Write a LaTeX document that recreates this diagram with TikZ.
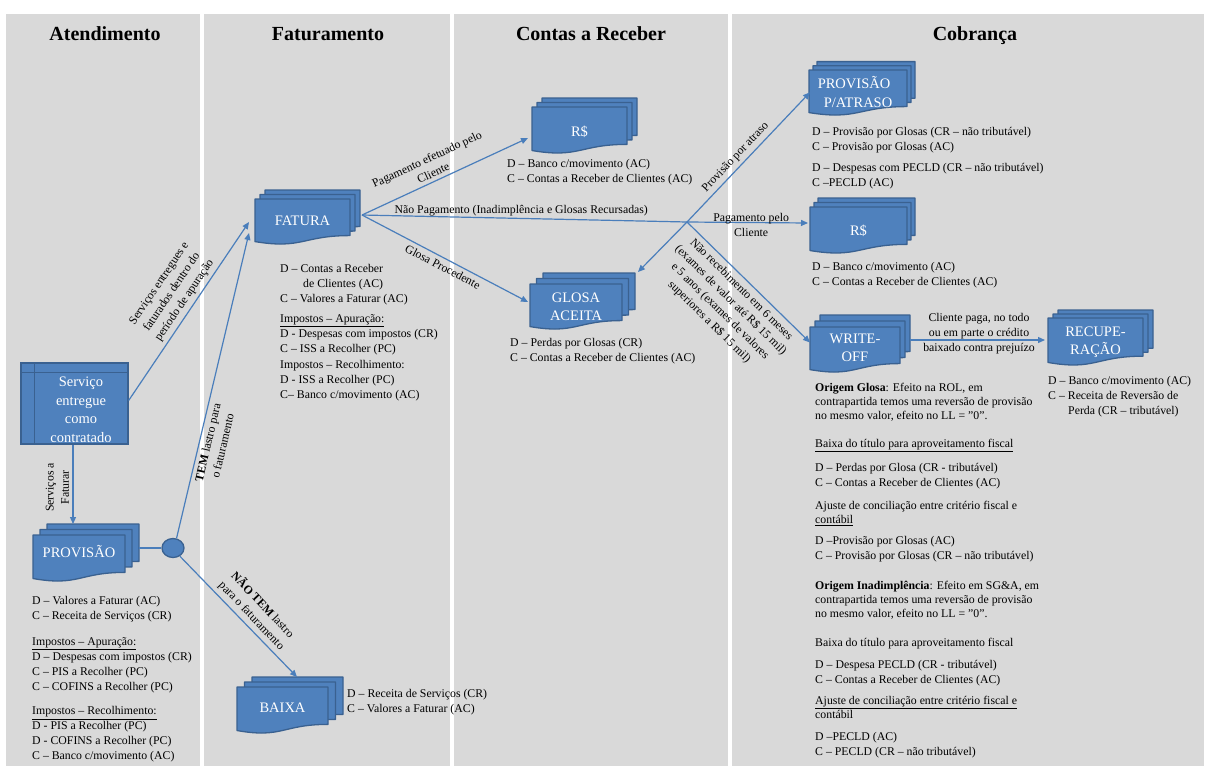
\documentclass[tikz,border=0pt]{standalone}
\usepackage{fontspec}
\setmainfont{Liberation Serif}
\usetikzlibrary{arrows.meta,calc,shapes.geometric}
\definecolor{bgray}{HTML}{D9D9D9}
\definecolor{dfill}{HTML}{4F81BD}
\definecolor{dline}{HTML}{3A6190}
\definecolor{aline}{HTML}{4A7EBB}
\newcommand\onedoc[4]{%
  \pgfmathsetmacro\odxm{(#1+#3)/2}%
  \pgfmathsetmacro\odya{#2+0.802*#4}%
  \pgfmathsetmacro\odyb{#2+1.107*#4}%
  \pgfmathsetmacro\odyc{#2+0.934*#4}%
  \path[docstyle] (#1,#2) -- (#3,#2) -- (#3,\odya) .. controls (\odxm,\odya) and (\odxm,\odyb) .. (#1,\odyc) -- cycle;%
}
\newcommand\mdoc[7]{%
  \pgfmathsetmacro\mxa{#2+2*\mdx}%
  \pgfmathsetmacro\mya{#3-2*\mdy}%
  \pgfmathsetmacro\mxb{#4+2*\mdx}%
  \pgfmathsetmacro\mxc{#2+\mdx}%
  \pgfmathsetmacro\myc{#3-\mdy}%
  \pgfmathsetmacro\mxd{#4+\mdx}%
  \onedoc{\mxa}{\mya}{\mxb}{#5}%
  \onedoc{\mxc}{\myc}{\mxd}{#5}%
  \onedoc{#2}{#3}{#4}{#5}%
  \pgfmathsetmacro\mw{#4+2*\mdx-#2}%
  \pgfmathsetmacro\mh{0.987*#5+2*\mdy}%
  \node[docbox,minimum width=\mw pt,minimum height=\mh pt,anchor=north west] (#1) at (#2,\mya) {};%
  \pgfmathsetmacro\mxm{(#2+#4)/2}%
  \node[doctext] (#1-t) at (\mxm,#6) {#7};%
}
\def\mdx{5}\def\mdy{4.5}
\begin{document}
\begin{tikzpicture}[x=1pt,y=-1pt,
  hdr/.style={font=\fontsize{20}{22}\selectfont\bfseries, inner sep=0, anchor=base},
  docstyle/.style={fill=dfill, draw=dline, line width=1.3pt, line join=round},
  docbox/.style={draw=none, inner sep=0, outer sep=0},
  doctext/.style={text=white, font=\fontsize{14.5}{18}\selectfont, align=center, inner sep=0},
  txt/.style={font=\fontsize{11.8}{15}\selectfont, align=left, anchor=north west, inner sep=0},
  txtc/.style={font=\fontsize{11.8}{14.3}\selectfont, align=left, anchor=north west, inner sep=0},
  lbl/.style={font=\fontsize{11.8}{15.2}\selectfont, align=center, inner sep=3.5pt},
  lbl2/.style={font=\fontsize{11.8}{15}\selectfont, align=center, inner sep=0, anchor=center},
  arr/.style={draw=aline, line width=1.2pt, -{Triangle[length=7pt,width=6pt]}},
  ln/.style={draw=aline, line width=1.2pt}]
\useasboundingbox (0,0) rectangle (1206,766);
\fill[white] (0,0) rectangle (1206,766);
% columns
\fill[bgray] (6,14) rectangle (200,766);
\fill[bgray] (204,14) rectangle (450,766);
\fill[bgray] (454,14) rectangle (728,766);
\fill[bgray] (732,14) rectangle (1204,766);
% headers
\node[hdr] (hA) at (105,40) {Atendimento};
\node[hdr] (hF) at (328,40) {Faturamento};
\node[hdr] (hC) at (591,40) {Contas a Receber};
\node[hdr] (hB) at (975,40) {Cobrança};
% servico (internal storage)
\node[fill=dfill, draw=dline, line width=1.3pt, minimum width=107pt, minimum height=81pt, inner sep=0] (serv) at (74.5,403.5) {};
\draw[dline, line width=1.3pt] ($(serv.north west)+(14,0)$) -- ($(serv.south west)+(14,0)$);
\draw[dline, line width=1.3pt] ($(serv.north west)+(0,10)$) -- ($(serv.north east)+(0,10)$);
\node[text=white, font=\fontsize{14.5}{18.5}\selectfont, align=center, inner sep=0] (serv-t) at (81,410) {Serviço\\entregue\\como\\contratado};
% multidocuments
\def\mdx{7}\def\mdy{5.5}\mdoc{prov}{33}{535}{125}{46.6}{552}{PROVISÃO}
\def\mdx{5}\def\mdy{4.5}\mdoc{fatura}{255}{199}{350}{45.6}{221}{FATURA}
\def\mdx{5}\def\mdy{4.5}\mdoc{rs1}{532}{107}{627}{46.6}{132}{R\$}
\def\mdx{6.5}\def\mdy{5.5}\mdoc{glosa}{530}{284}{622}{45.6}{307}{GLOSA\\ACEITA}
\def\mdx{4}\def\mdy{4.2}\mdoc{pa}{809}{70}{907}{45.6}{92}{\hspace*{-8pt}PROVISÃO\\P/ATRASO}
\def\mdx{4}\def\mdy{4.5}\mdoc{rs2}{810}{207}{907}{46.6}{231}{R\$}
\def\mdx{5}\def\mdy{6}\mdoc{wo}{810}{327}{900}{45.6}{348}{WRITE-\\OFF}
\def\mdx{5}\def\mdy{4}\mdoc{rec}{1048}{318}{1143}{47.6}{342.5}{RECUPE-\\RAÇÃO}
\def\mdx{7.5}\def\mdy{5}\mdoc{baixa}{237}{687}{328}{46.6}{708}{BAIXA}
% junction circle
\node[ellipse, fill=dfill, draw=dline, line width=1.3pt, minimum width=22pt, minimum height=19pt, inner sep=0] (circ) at (173,548) {};
\coordinate (fo) at ($(fatura.east)+(2,-2)$);
\coordinate (jn) at (687,222);
\coordinate (wos) at ($(wo.east)+(0,-3.5)$);
% connectors
\draw[arr] ($(serv.east)+(0,-3)$) -- node[lbl,pos=0.53,rotate=56,anchor=south] {Serviços entregues e\\faturados dentro do\\período de apuração} ($(fatura.west)+(-6,5)$);
\draw[arr] ([xshift=-1.5pt]serv.south) -- node[lbl,pos=0.54,rotate=90,anchor=south] {Serviços a\\Faturar} ([xshift=-1.5pt]serv.south |- prov.north);
\draw[ln] (circ.west) -- (circ.west -| prov.east);
\draw[arr] (circ.70) -- node[lbl,pos=0.32,rotate=76.8,anchor=north] {\textbf{TEM} lastro para\\o faturamento} ($(fatura.west)+(-6,16)$);
\draw[arr] (circ.-50) -- node[lbl,pos=0.55,rotate=-46.4,anchor=south] {\textbf{NÃO TEM} lastro\\para o faturamento} ($(baixa.north)+(7,0)$);
\draw[arr] (fo) -- node[lbl,pos=0.45,rotate=24.9,anchor=south] {Pagamento efetuado pelo\\Cliente} ($(rs1.west)+(-4,12.5)$);
\draw[ln] (fo) -- node[lbl,pos=0.49,anchor=south,inner sep=1.5pt] {Não Pagamento (Inadimplência e Glosas Recursadas)} (jn);
\draw[arr] (fo) -- node[lbl,pos=0.51,rotate=-27.6,anchor=north] {Glosa Procedente} ($(glosa.west)+(-2,1)$);
\draw[arr] (jn) -- node[lbl,pos=0.45,rotate=46.6,anchor=south] {Provisão por atraso} ($(pa.west)+(1,4)$);
\draw[arr] (jn) -- node[lbl2,pos=0.53,yshift=-2.5pt] {Pagamento pelo\\Cliente} ($(rs2.west)+(-2,-2.5)$);
\draw[arr] (jn) -- ($(glosa.north east)+(3,-1)$);
\draw[arr] (jn) -- node[lbl,pos=0.5,rotate=-44.5,anchor=north,inner sep=4.5pt] {Não recebimento em 6 meses\\(exames de valor até R\$ 15 mil)\\e 5 anos (exames de valores\\superiores a R\$ 15 mil)} ($(wo.west)+(0,-1)$);
\draw[arr, shorten >=3pt] (wos) -- node[lbl2,pos=0.5,yshift=6pt] {Cliente paga, no todo\\ou em parte o crédito\\baixado contra prejuízo} (wos -| rec.west);
% text blocks: Atendimento
\node[txt] (l1) at (32,596.5) {D – Valores a Faturar (AC)\\C – Receita de Serviços (CR)};
\node[txt] (l2) at (32,637.5) {\underline{Impostos – Apuração:}\\D – Despesas com impostos (CR)\\C – PIS a Recolher (PC)\\C – COFINS a Recolher (PC)};
\node[txt] (l3) at (32,706.5) {\underline{Impostos – Recolhimento:}\\D - PIS a Recolher (PC)\\D - COFINS a Recolher (PC)\\C – Banco c/movimento (AC)};
% Faturamento
\node[txt] (f1) at (280,264.5) {D – Contas a Receber\\\hspace*{23pt}de Clientes (AC)\\C – Valores a Faturar (AC)};
\node[txt] (f2) at (280,314.5) {\underline{Impostos – Apuração:}\\D - Despesas com impostos (CR)\\C – ISS a Recolher (PC)};
\node[txt] (f3) at (280,360.5) {Impostos – Recolhimento:\\D - ISS a Recolher (PC)\\C– Banco c/movimento (AC)};
\node[txt] (b1) at (347,689.5) {D – Receita de Serviços (CR)\\C – Valores a Faturar (AC)};
% Contas a Receber
\node[txt] (r1) at (507,159.5) {D – Banco c/movimento (AC)\\C – Contas a Receber de Clientes (AC)};
\node[txt] (g1) at (510,338.5) {D – Perdas por Glosas (CR)\\C – Contas a Receber de Clientes (AC)};
% Cobranca
\node[txt] (p1) at (812,127.5) {D – Provisão por Glosas (CR – não tributável)\\C – Provisão por Glosas (AC)};
\node[txt] (p2) at (812,163.5) {D – Despesas com PECLD (CR – não tributável)\\C –PECLD (AC)};
\node[txt] (r2) at (812,262.5) {D – Banco c/movimento (AC)\\C – Contas a Receber de Clientes (AC)};
\node[txt] (rc) at (1048,376.5) {D – Banco c/movimento (AC)\\C – Receita de Reversão de\\\hspace*{20pt}Perda (CR – tributável)};
\node[txtc] (c1) at (815,382.5) {\textbf{Origem Glosa}: Efeito na ROL, em\\contrapartida temos uma reversão de provisão\\no mesmo valor, efeito no LL = "0".};
\node[txtc] (c2) at (815,438.5) {\underline{Baixa do título para aproveitamento fiscal}};
\node[txtc] (c3) at (815,463.5) {D – Perdas por Glosa (CR - tributável)\\C – Contas a Receber de Clientes (AC)};
\node[txtc] (c4) at (815,500.5) {Ajuste de conciliação entre critério fiscal e\\\underline{contábil}};
\node[txtc] (c5) at (815,536.5) {D –Provisão por Glosas (AC)\\C – Provisão por Glosas (CR – não tributável)};
\node[txtc] (c6) at (815,580.5) {\textbf{Origem Inadimplência}: Efeito em SG\&A, em\\contrapartida temos uma reversão de provisão\\no mesmo valor, efeito no LL = "0".};
\node[txtc] (c7) at (815,637.5) {Baixa do título para aproveitamento fiscal};
\node[txtc] (c8) at (815,660.5) {D – Despesa PECLD (CR - tributável)\\C – Contas a Receber de Clientes (AC)};
\node[txtc] (c9) at (815,695.5) {\underline{Ajuste de conciliação entre critério fiscal e}\\contábil};
\node[txtc] (c10) at (815,732.5) {D –PECLD (AC)\\C – PECLD (CR – não tributável)};
\end{tikzpicture}
\end{document}
